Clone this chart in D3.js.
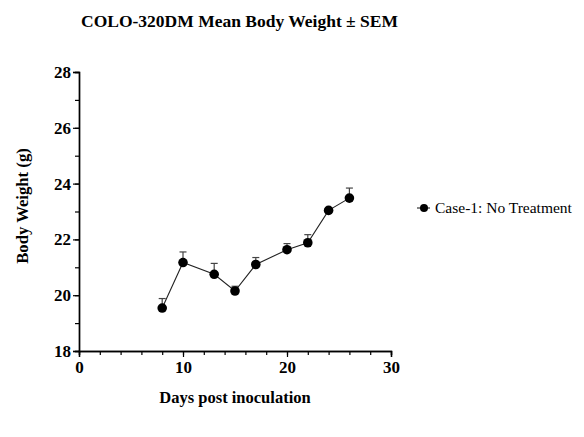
<!DOCTYPE html>
<html>
<head>
<meta charset="utf-8">
<script src="https://cdn.jsdelivr.net/npm/d3@7"></script>
<style>
  body { margin: 0; background: #fff; }
  svg text { font-family: "Liberation Serif", "Times New Roman", serif !important; }
</style>
</head>
<body>
<div id="chart"></div>
<script>
// data
const days = [8, 10, 13, 15, 17, 20, 22, 24, 26]
const meanWeight = [19.54, 21.17, 20.75, 20.15, 21.1, 21.63, 21.88, 23.04, 23.48]
const semWeight = [0.34, 0.38, 0.39, 0.17, 0.25, 0.22, 0.29, 0.08, 0.36]
const seriesName = 'Case-1: No Treatment'
const xTicks = [0, 10, 20, 30]
const yTicks = [18, 20, 22, 24, 26, 28]

const W = 584, H = 437
const margin = { left: 79, right: 193, top: 72, bottom: 86 }

const svg = d3.select('#chart').append('svg')
  .attr('width', W).attr('height', H)

const x = d3.scaleLinear().domain([0, 30]).range([margin.left, 391])
const y = d3.scaleLinear().domain([18, 28]).range([351, margin.top])

// title
svg.append('text')
  .attr('x', 81).attr('y', 27)
  .attr('font-size', 17.5).attr('font-weight', 'bold')
  .text('COLO-320DM Mean Body Weight ± SEM')

// x axis
const xAxis = svg.append('g').attr('transform', `translate(0,${y(18)})`)
xAxis.append('g')
  .call(d3.axisBottom(x).tickValues(d3.range(0, 31, 2)).tickSize(4).tickFormat(''))
xAxis.append('g')
  .call(d3.axisBottom(x).tickValues(xTicks).tickSize(6).tickPadding(4).tickFormat(d3.format('d')))
xAxis.selectAll('.domain').attr('stroke-width', 1.4)

// y axis
const yAxis = svg.append('g').attr('transform', `translate(${x(0)},0)`)
yAxis.append('g')
  .call(d3.axisLeft(y).tickValues(d3.range(18, 28.1, 1)).tickSize(4).tickFormat(''))
yAxis.append('g')
  .call(d3.axisLeft(y).tickValues(yTicks).tickSize(6).tickPadding(2).tickFormat(d3.format('d')))
yAxis.selectAll('.domain').attr('stroke-width', 1.4)

svg.selectAll('.tick line').attr('stroke-width', 1.2)
svg.selectAll('.tick text')
  .style('font-size', '17px').style('font-weight', 'bold').attr('fill', '#000')

// axis titles
svg.append('text')
  .attr('x', 235).attr('y', 403)
  .attr('text-anchor', 'middle')
  .attr('font-size', 16.5).attr('font-weight', 'bold')
  .text('Days post inoculation')
svg.append('text')
  .attr('transform', `translate(28,206) rotate(-90)`)
  .attr('text-anchor', 'middle')
  .attr('font-size', 16.7).attr('font-weight', 'bold')
  .text('Body Weight (g)')

const pts = days.map((d, i) => ({ day: d, mean: meanWeight[i], sem: semWeight[i] }))

// error bars (upper only)
const err = svg.append('g').attr('stroke', '#444').attr('stroke-width', 1.2)
pts.forEach(p => {
  err.append('line')
    .attr('x1', x(p.day)).attr('x2', x(p.day))
    .attr('y1', y(p.mean)).attr('y2', y(p.mean + p.sem))
  err.append('line')
    .attr('x1', x(p.day) - 3.5).attr('x2', x(p.day) + 3.5)
    .attr('y1', y(p.mean + p.sem)).attr('y2', y(p.mean + p.sem))
})

// line
svg.append('path')
  .datum(pts)
  .attr('fill', 'none').attr('stroke', '#222').attr('stroke-width', 1.1)
  .attr('d', d3.line().x(d => x(d.day)).y(d => y(d.mean)))

// markers
svg.append('g').selectAll('circle').data(pts).enter().append('circle')
  .attr('cx', d => x(d.day)).attr('cy', d => y(d.mean))
  .attr('r', 4.8).attr('fill', '#000')

// legend
const lg = svg.append('g').attr('transform', 'translate(417,208)')
lg.append('line').attr('x1', 0).attr('x2', 13).attr('y1', 0).attr('y2', 0)
  .attr('stroke', '#222').attr('stroke-width', 1.1)
lg.append('circle').attr('cx', 7).attr('cy', 0).attr('r', 4).attr('fill', '#000')
lg.append('text').attr('x', 18).attr('y', 5)
  .attr('font-size', 15.5).text(seriesName)
</script>
</body>
</html>
